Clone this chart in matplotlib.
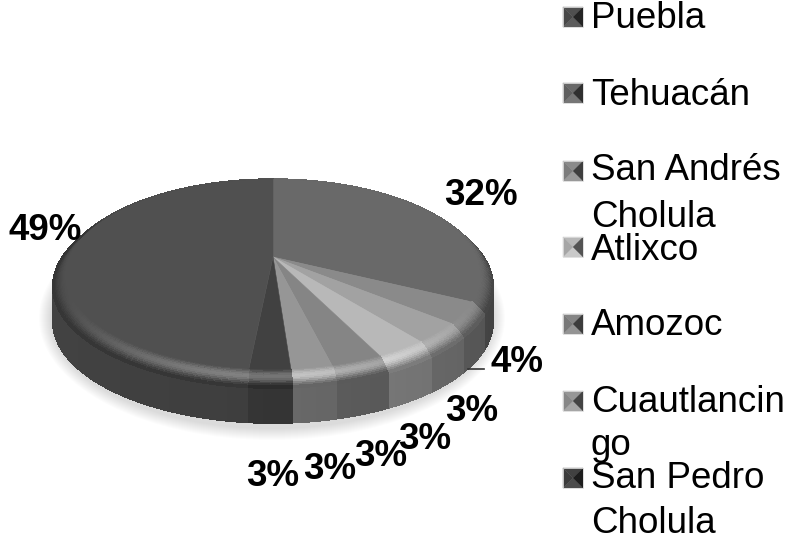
import numpy as np
import matplotlib
matplotlib.use('Agg')
import matplotlib.pyplot as plt
from matplotlib.collections import PolyCollection
from matplotlib.patches import Ellipse, Polygon

plt.rcParams['font.family'] = ['Liberation Sans', 'DejaVu Sans']

# slices, clockwise from 12 o'clock (Puebla closes the circle)
slice_values = [32.4, 3.6, 3.4, 3.4, 3.4, 2.7, 2.7, 48.5]
slice_greys = [0x69, 0x8a, 0xa2, 0xb8, 0x85, 0x96, 0x41, 0x50]
slice_labels = ['32%', '4%', '3%', '3%', '3%', '3%', '3%', '49%']

legend_lines = [['Puebla'], ['Tehuacán'], ['San Andrés', 'Cholula'], ['Atlixco'],
                ['Amozoc'], ['Cuautlancin', 'go'], ['San Pedro', 'Cholula']]
legend_greys = [0x50, 0x69, 0x8a, 0xb8, 0x85, 0x96, 0x41]

# pixel layout
label_pos = [(481, 205), (517, 372), (472, 421), (425, 449), (381, 466), (330, 479), (273, 486), (45, 240)]
legend_baselines = [[28], [105], [180, 227], [260], [335], [412, 455], [488, 533]]
legend_centres = [17, 93, 171, 247, 324, 401, 478]

cx, apex_y, rad = 273, 257, 216
k, a = 0.192, -48.4
face_r = 0.94
bevel_drop = 10
side_drop = 45


def proj(theta, r=1.0, drop=0.0):
    X = r * np.sin(theta)
    Y = r * np.cos(theta)
    d = 1 + k * Y
    return cx + rad * X / d, (a * Y + apex_y) / d + drop


def grey(v):
    v = min(max(v, 0), 255) / 255
    return (v, v, v)


fig = plt.figure(figsize=(7.87, 5.41), dpi=100)
ax = fig.add_axes([0, 0, 1, 1])
ax.set_xlim(0, 787)
ax.set_ylim(541, 0)
ax.axis('off')

# soft shadow under the pie
for i in range(12):
    ax.add_patch(Ellipse((272, 318), 444 + 2 * i, 222 + 2 * i, color='k', alpha=0.012, lw=0, zorder=1))

edges = np.cumsum([0] + slice_values) / sum(slice_values) * 2 * np.pi

side_q, side_c, bev_q, bev_c = [], [], [], []
bevel_s = np.linspace(0, 1, 13)
for i, g in enumerate(slice_greys):
    n = max(int(np.degrees(edges[i + 1] - edges[i]) / 1.5), 2)
    th = np.linspace(edges[i], edges[i + 1], n + 1)
    for t0, t1 in zip(th[:-1], th[1:]):
        tm = (t0 + t1) / 2
        front = max(-np.cos(tm), 0)
        # side wall, a bit darker to the right of the front
        shade = 0.62 - 0.10 * max(np.sin(tm), 0) + 0.06 * max(-np.sin(tm), 0)
        side_q.append([proj(t0, 1, bevel_drop), proj(t1, 1, bevel_drop), proj(t1, 1, side_drop), proj(t0, 1, side_drop)])
        side_c.append(grey(g * shade + 12))
        # rounded rim between face and wall
        for s0, s1 in zip(bevel_s[:-1], bevel_s[1:]):
            sm = (s0 + s1) / 2
            hi = np.sin(sm * np.pi) ** 2 * 58 * front ** 3
            base = g * (1 - 0.36 * sm ** 2)
            r0, r1 = face_r + 0.06 * s0, face_r + 0.06 * s1
            d0, d1 = bevel_drop * s0 ** 1.3, bevel_drop * s1 ** 1.3
            bev_q.append([proj(t0, r0, d0), proj(t1, r0, d0), proj(t1, r1, d1), proj(t0, r1, d1)])
            bev_c.append(grey(base + hi))

ax.add_collection(PolyCollection(side_q, facecolors=side_c, edgecolors=side_c, linewidths=0.6, antialiaseds=False, zorder=2))
ax.add_collection(PolyCollection(bev_q, facecolors=bev_c, edgecolors=bev_c, linewidths=0.6, antialiaseds=False, zorder=3))

for i, g in enumerate(slice_greys):
    th = np.linspace(edges[i], edges[i + 1], 60)
    xs, ys = proj(th, face_r)
    pts = [(cx, apex_y)] + list(zip(xs, ys))
    ax.add_patch(Polygon(pts, closed=True, fc=grey(g), ec=grey(g), lw=0.4, zorder=4))

for txt, (x, y) in zip(slice_labels, label_pos):
    ax.text(x, y, txt, fontsize=26.5, fontweight='bold', ha='center', va='baseline', color='k', zorder=6)
ax.plot([468, 484], [369, 369], color='#333333', lw=1.2, zorder=6)

# legend: bevelled squares and wrapped text
for lines, bases, yc, g in zip(legend_lines, legend_baselines, legend_centres, legend_greys):
    l, r, t, b = 563, 583, yc - 10, yc + 10
    mx, my = (l + r) / 2, yc
    tris = [([(l, t), (r, t), (mx, my)], g * 1.0),
            ([(l, b), (r, b), (mx, my)], g * 1.05 + 8),
            ([(l, t), (l, b), (mx, my)], g * 0.9),
            ([(r, t), (r, b), (mx, my)], g * 0.45)]
    for pts, v in tris:
        ax.add_patch(Polygon(pts, closed=True, fc=grey(v), ec=grey(v), lw=0.2, zorder=5))
    ax.add_patch(Polygon([(l, t), (r, t), (r, b), (l, b)], closed=True, fill=False, ec='#dddddd', lw=0.6, zorder=5))
    for line, base in zip(lines, bases):
        ax.text(591, base, line, fontsize=26.5, ha='left', va='baseline', color='k', zorder=6)

fig.savefig('out.png', dpi=100)
